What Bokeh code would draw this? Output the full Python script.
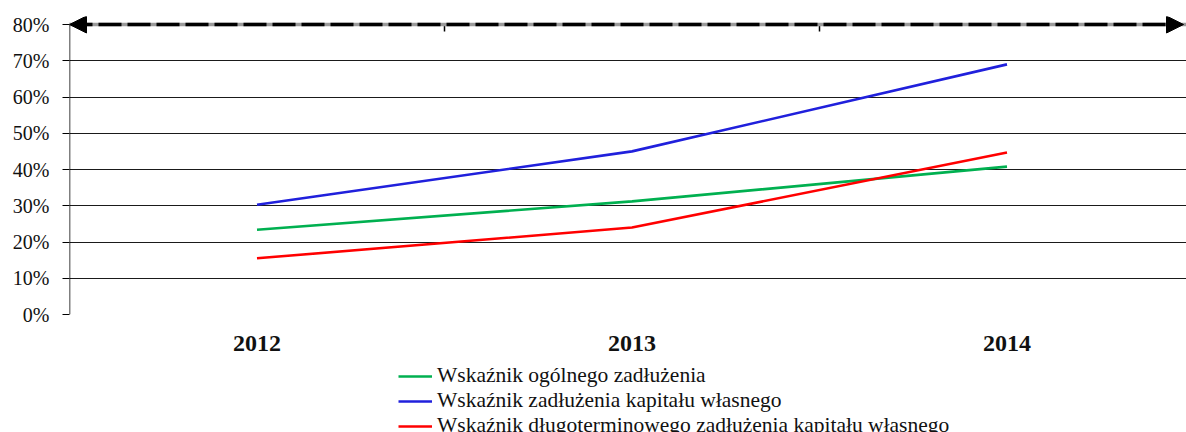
from bokeh.plotting import figure
from bokeh.layouts import column
from bokeh.models import (Range1d, LinearAxis, FixedTicker, Arrow, NormalHead,
                          Legend, LegendItem, Span)
from bokeh.embed import file_html
from bokeh.resources import INLINE

# ---- data ----
years = ["2012", "2013", "2014"]
ogolny = [23.4, 31.2, 40.8]          # Wskaźnik ogólnego zadłużenia
kapital = [30.3, 45.0, 69.0]         # Wskaźnik zadłużenia kapitału własnego
dlugo = [15.5, 24.0, 44.7]           # Wskaźnik długoterminowego zadłużenia kapitału własnego
series_names = ["Wskaźnik ogólnego zadłużenia",
                "Wskaźnik zadłużenia kapitału własnego",
                "Wskaźnik długoterminowego zadłużenia kapitału własnego"]
series_colors = ["#00b050", "#2020dc", "#ff0000"]
y_ticks = [0, 10, 20, 30, 40, 50, 60, 70, 80]

FONT = "'Liberation Serif', 'Times New Roman', serif"
W, H = 1186, 362
LEG_H = 432 - H
ML, MR, MT, MB = 69, 0, 16, 48
frame_w = W - ML - MR
frame_h = H - MT - MB
cat_px = 375.0
x_end = frame_w / cat_px
y_max = y_ticks[-1]
y_end = y_max + 8.0 * 10 / 36.25
px_per_unit = frame_h / y_end

xs = [i + 0.5 for i in range(len(years))]
all_series = [ogolny, kapital, dlugo]

p = figure(width=W, height=H, output_backend="svg", toolbar_location=None,
           x_range=Range1d(0, x_end), y_range=Range1d(0, y_end),
           min_border_left=ML, min_border_right=MR, min_border_top=MT,
           min_border_bottom=MB, x_axis_location=None, y_axis_location=None)
p.outline_line_color = None
p.background_fill_color = "white"
p.border_fill_color = "white"

# y axis
yax = LinearAxis(ticker=FixedTicker(ticks=y_ticks),
                 major_label_overrides={t: f"{t}%" for t in y_ticks})
yax.axis_line_color = None
yax.major_tick_out = 7
yax.major_tick_in = 0
yax.minor_tick_line_color = None
yax.major_tick_line_color = "black"
yax.major_label_standoff = 13
yax.major_label_text_font = FONT
yax.major_label_text_font_size = "20px"
yax.major_label_text_color = "#111111"
p.add_layout(yax, "left")

# x axis (category labels)
xax = LinearAxis(ticker=FixedTicker(ticks=xs),
                 major_label_overrides={x: y for x, y in zip(xs, years)})
xax.axis_line_color = None
xax.major_tick_line_color = None
xax.major_tick_out = 0
xax.major_tick_in = 0
xax.minor_tick_line_color = None
xax.minor_tick_out = 0
xax.major_label_standoff = 21
xax.major_label_text_font = FONT
xax.major_label_text_font_size = "24px"
xax.major_label_text_font_style = "bold"
xax.major_label_text_color = "#111111"
p.add_layout(xax, "below")

# grid
p.ygrid.ticker = FixedTicker(ticks=y_ticks)
p.ygrid.grid_line_color = "#1a1a1a"
p.ygrid.grid_line_width = 1.2
p.xgrid.visible = False

# vertical axis line
p.segment(x0=[0], y0=[y_ticks[0]], x1=[0], y1=[y_max], line_color="black", line_width=1.5)

# top ticks between categories
bounds = [i + 1 for i in range(len(years) - 1)]
p.segment(x0=bounds, y0=[y_max] * len(bounds), x1=bounds,
          y1=[y_max - 7 / px_per_unit] * len(bounds), line_color="black", line_width=1.5)

# series
for vals, col in zip(all_series, series_colors):
    p.line(xs, vals, line_color=col, line_width=2.6)

# dashed double arrow at the top
p.add_layout(Span(location=y_max, dimension="width", line_color="#9a9a9a", line_width=3.5))
arr = Arrow(x_start=0, y_start=y_max, x_end=x_end - 3 / cat_px, y_end=y_max,
            line_color="black", line_width=3.5, line_dash="23 6",
            start=NormalHead(size=17, fill_color="black", line_color="black", line_width=1),
            end=NormalHead(size=17, fill_color="black", line_color="black", line_width=1))
p.add_layout(arr)

# ---- legend strip (separate figure so nothing is clipped) ----
q = figure(width=W, height=LEG_H, output_backend="svg", toolbar_location=None,
           x_range=Range1d(0, x_end), y_range=Range1d(1000, 1001),
           min_border_left=0, min_border_right=0, min_border_top=0, min_border_bottom=0,
           x_axis_location=None, y_axis_location=None)
q.outline_line_color = None
q.xgrid.visible = False
q.ygrid.visible = False
leg_renderers = []
for vals, col in zip(all_series, series_colors):
    leg_renderers.append(q.line(xs, vals, line_color=col, line_width=2.6))

legend = Legend(items=[LegendItem(label=n, renderers=[r]) for n, r in zip(series_names, leg_renderers)],
                location=(398 - ML, -6))
legend.padding = 0
legend.margin = 0
legend.spacing = 0
legend.border_line_color = None
legend.background_fill_alpha = 0
legend.glyph_width = 34
legend.glyph_height = 24
legend.label_height = 24
legend.label_standoff = 5
legend.label_text_font = FONT
legend.label_text_font_size = "21.5px"
legend.label_text_color = "#111111"
q.add_layout(legend, "center")

layout = column(p, q, spacing=0)
open("out.html", "w").write(file_html(layout, INLINE))
